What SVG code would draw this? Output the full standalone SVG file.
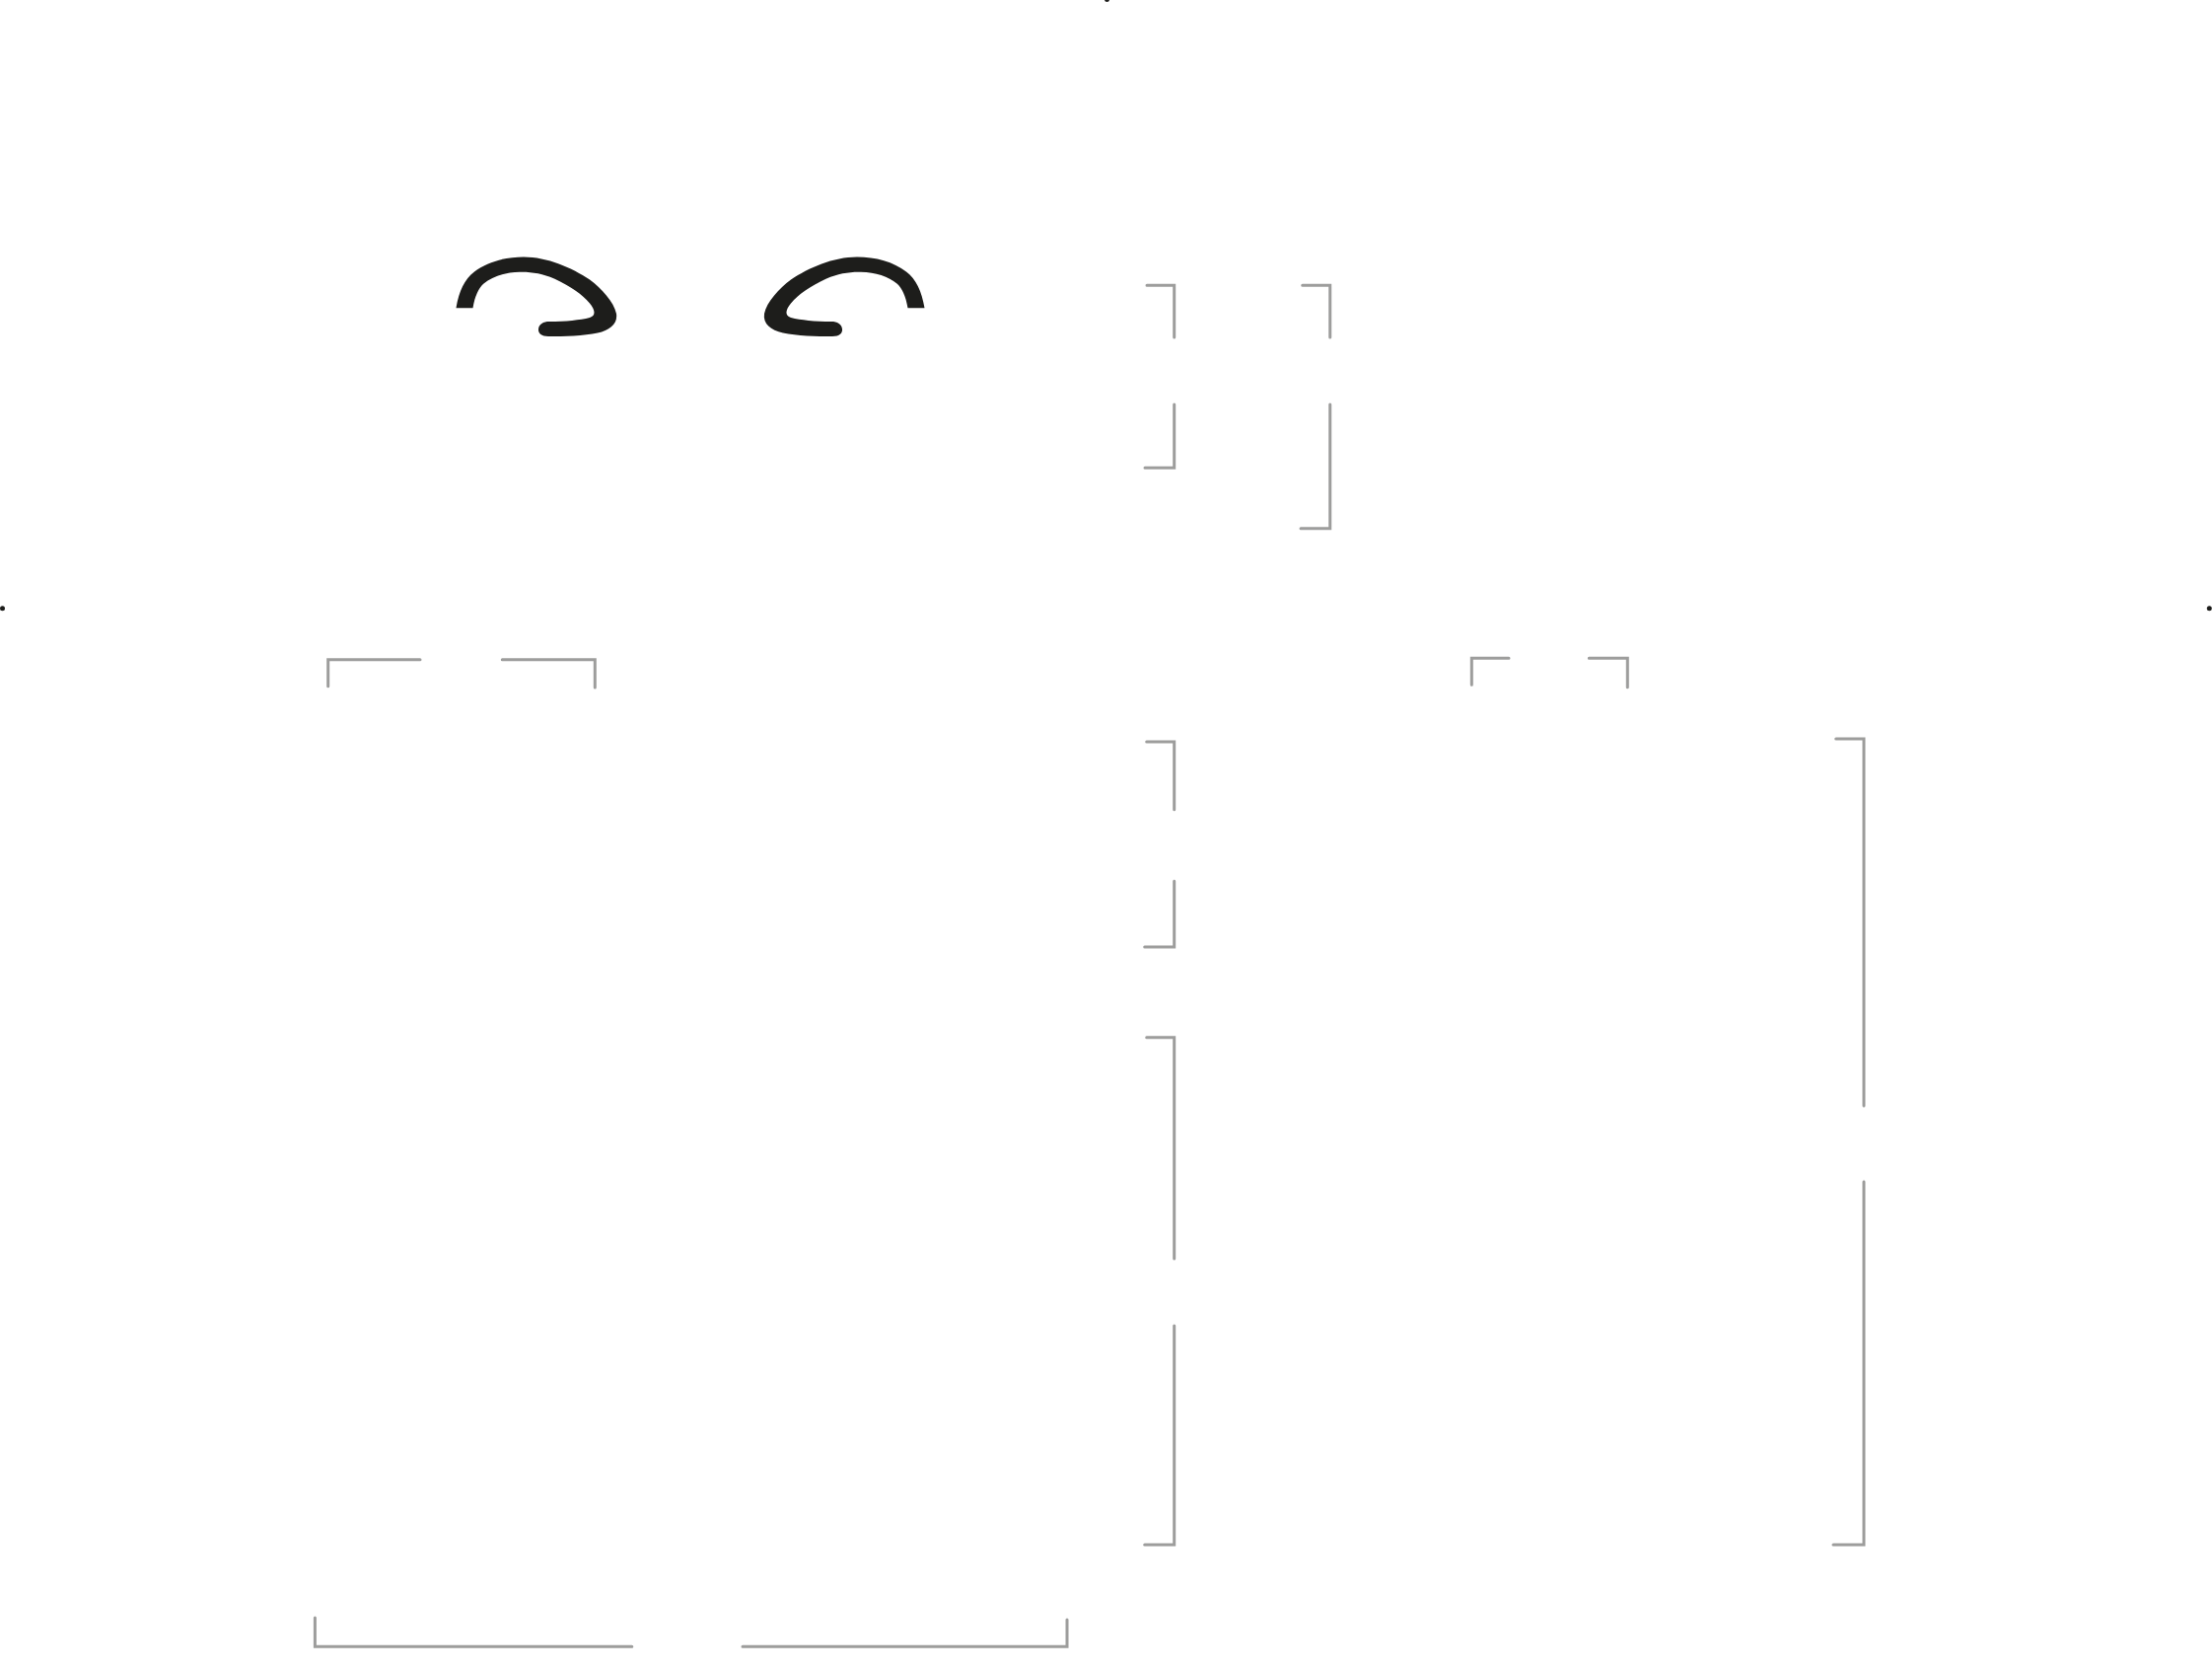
<svg xmlns="http://www.w3.org/2000/svg" width="2243" height="1694" viewBox="0 0 2243 1694">
<style>
.br{fill:none;stroke:#9d9d9c;stroke-width:3;stroke-linecap:round;stroke-linejoin:miter}
.eye{fill:#1d1d1b}
.dot{fill:#1d1d1b}
</style>
<defs>
<path id="eyeShape" d="M462.5,312.3 C465.5,295 471,283 481,275.5 C494,265.5 512,260.5 531,260.5 C555,260.5 580,271.5 598,283.5 C610,292.5 622.5,306 625,318 C626.5,328.5 618.5,334.5 606,337.5 C592,340.5 572,341 556,341 C548.5,341 545.5,337.5 546,333.5 C546.5,328.5 551,326 557,326 C574,326 588,324.5 598,322 C604.5,320 603.5,314 598,307.5 C590,298 579,290.5 562,282.5 C550,277.5 539,275.5 527,275.8 C512,276 499,280.5 490.5,287.5 C485.5,292 481.5,300 479.5,312.3 Z"/>
</defs>
<rect x="0" y="0" width="2243" height="1694" fill="#ffffff"/>
<g id="dots">
<circle class="dot" cx="2.5" cy="616.7" r="2.5"/>
<circle class="dot" cx="2240.3" cy="616.7" r="2.5"/>
<circle class="dot" cx="1122.5" cy="-0.5" r="2.5"/>
</g>
<g id="eyes">
<use href="#eyeShape" class="eye"/>
<use href="#eyeShape" class="eye" transform="translate(1400,0) scale(-1,1)"/>
</g>
<g id="brackets">
<path class="br" d="M1163,289.3 H1190.7 V342"/>
<path class="br" d="M1190.7,410 V474.3 H1161"/>
<path class="br" d="M1320.7,289.3 H1348.7 V342"/>
<path class="br" d="M1348.7,410 V535.7 H1319"/>
<path class="br" d="M332.7,695.7 V668.7 H426"/>
<path class="br" d="M509.3,668.7 H603.3 V697"/>
<path class="br" d="M1492.3,694.3 V667.3 H1530"/>
<path class="br" d="M1611.3,667.3 H1650.3 V696.7"/>
<path class="br" d="M1162.7,752 H1190.7 V820.7"/>
<path class="br" d="M1190.7,893.3 V960 H1160.7"/>
<path class="br" d="M1162.7,1051.7 H1190.7 V1276"/>
<path class="br" d="M1190.7,1344 V1566 H1160.7"/>
<path class="br" d="M1861.7,749 H1890 V1121"/>
<path class="br" d="M1890,1198 V1566 H1859"/>
<path class="br" d="M319.4,1640 V1669.3 H640.8"/>
<path class="br" d="M753,1669.3 H1082 V1642"/>
</g>
</svg>
